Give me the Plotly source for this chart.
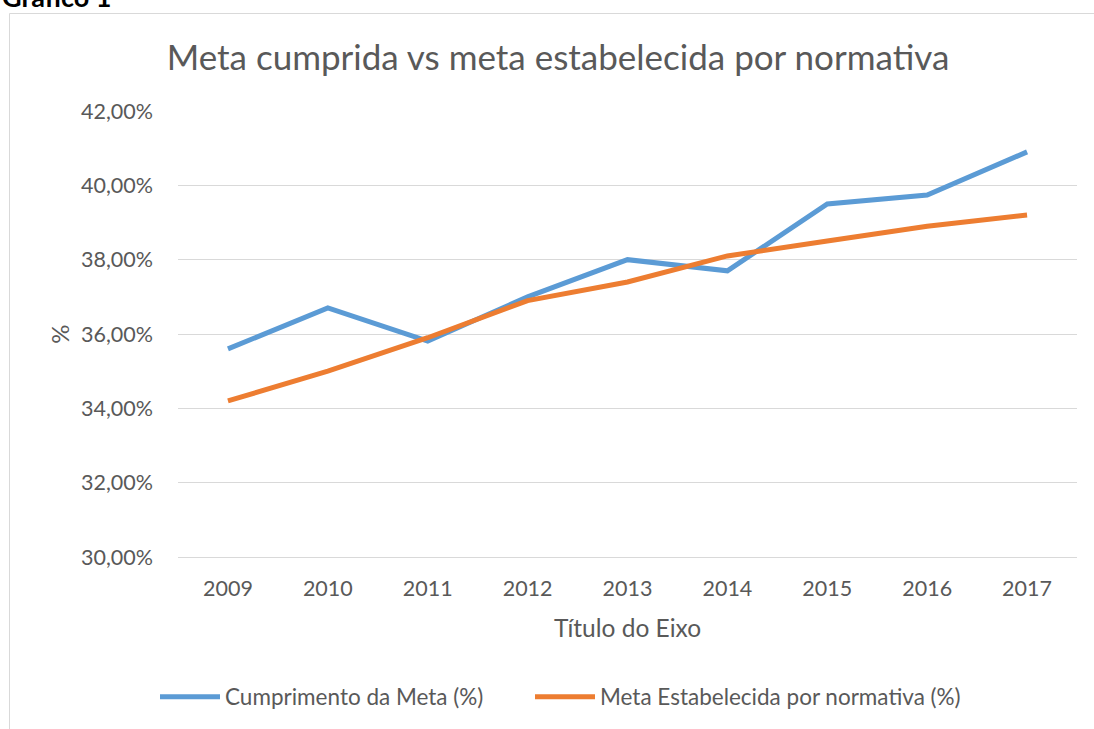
import plotly.graph_objects as go

years = ["2009", "2010", "2011", "2012", "2013", "2014", "2015", "2016", "2017"]
cumprimento = [35.60, 36.70, 35.81, 37.00, 38.00, 37.70, 39.50, 39.74, 40.90]
meta_normativa = [34.20, 35.00, 35.90, 36.90, 37.40, 38.10, 38.50, 38.90, 39.20]

FONT = "Lato, Open Sans, sans-serif"
GREY = "#595959"

W, H = 1094, 729
L, R, T, B = 178, 1077, 111, 557
pw, ph = R - L, B - T


def px_x(x):
    return (x - L) / pw


def px_y(y):
    return (B - y) / ph


fig = go.Figure()
fig.add_trace(go.Scatter(x=years, y=cumprimento, mode="lines", name="Cumprimento da Meta (%)",
                         line=dict(color="#5B9BD5", width=5), legend="legend"))
fig.add_trace(go.Scatter(x=years, y=meta_normativa, mode="lines", name="Meta Estabelecida por normativa (%)",
                         line=dict(color="#ED7D31", width=5), legend="legend2"))

legend_style = dict(orientation="h", xanchor="left", y=px_y(697), yanchor="middle",
                    font=dict(size=22.5, color=GREY), itemwidth=60, bgcolor="rgba(0,0,0,0)")

fig.update_layout(
    width=W, height=H,
    margin=dict(l=L, r=W - R, t=T, b=H - B, autoexpand=False),
    paper_bgcolor="white", plot_bgcolor="white",
    separators=",.",
    font=dict(family=FONT, color=GREY, size=21),
    title=dict(text="Meta cumprida vs meta estabelecida por normativa", x=558 / W, xanchor="center",
               y=1 - 58 / H, yanchor="middle", font=dict(size=35, color=GREY, family=FONT)),
    xaxis=dict(type="category", range=[-0.5, 8.5], showgrid=False, showline=True, linecolor="#d9d9d9", linewidth=1,
               ticks="", tickfont=dict(size=21.5, color=GREY), ticklabelstandoff=12,
               title=dict(text="Título do Eixo", font=dict(size=24.5, color=GREY), standoff=20)),
    yaxis=dict(range=[30, 42], dtick=2, tickformat=".2f", ticksuffix="%",
               showgrid=True, gridcolor="#d9d9d9", gridwidth=1, zeroline=False,
               ticks="", tickfont=dict(size=21.5, color=GREY), ticklabelstandoff=24,
               title=dict(text="%", font=dict(size=24, color=GREY), standoff=4)),
    showlegend=True,
    legend=dict(x=px_x(155), **legend_style),
    legend2=dict(x=px_x(530), **legend_style),
    shapes=[dict(type="rect", xref="paper", yref="paper",
                 x0=px_x(9.5), x1=px_x(1120), y0=px_y(760), y1=px_y(13.5),
                 line=dict(color="#d9d9d9", width=1), fillcolor="rgba(0,0,0,0)", layer="below")],
    annotations=[dict(text="<b>Gráfico 1</b>", xref="paper", yref="paper", x=px_x(0), y=px_y(15),
                      xanchor="left", yanchor="bottom", showarrow=False,
                      font=dict(size=27, color="black", family=FONT))],
)

fig.write_html("out.html", config={"displayModeBar": False},
               post_script="document.body.style.margin='0';")
